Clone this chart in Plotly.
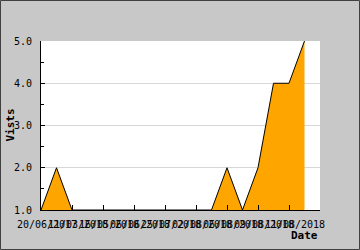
import plotly.graph_objects as go

dates = ["20/06/2017", "07/07/2017", "11/03/2018", "17/03/2018", "16/05/2018",
         "30/05/2018", "06/06/2018", "15/06/2018", "25/07/2018", "30/07/2018",
         "02/08/2018", "03/08/2018", "06/08/2018", "07/08/2018", "09/08/2018",
         "10/08/2018", "11/08/2018", "13/08/2018"]
visits = [1, 2, 1, 1, 1, 1, 1, 1, 1, 1, 1, 1, 2, 1, 2, 4, 4, 5]
y_ticks = [1, 2, 3, 4, 5]
y_labels = ["1.0", "2.0", "3.0", "4.0", "5.0"]

x_idx = list(range(len(dates)))
tick_idx = x_idx[::2]
tick_text = [dates[i] for i in tick_idx]

FONT = "DejaVu Sans Mono"

fig = go.Figure()
fig.add_trace(go.Scatter(
    x=x_idx, y=visits, mode="lines", fill="tozeroy",
    fillcolor="#FFA500", line=dict(color="#000000", width=1),
    hoverinfo="skip", showlegend=False,
))

L, R, T, B = 41, 40, 41, 40
W, H = 360, 250
pw, ph = W - L - R, H - T - B

fig.update_layout(
    width=W, height=H,
    margin=dict(l=L, r=R, t=T, b=B, pad=0),
    paper_bgcolor="#c8c8c8",
    plot_bgcolor="#ffffff",
    font=dict(family=FONT, size=10, color="#000000"),
    xaxis=dict(
        range=[0, 18], tickmode="array", tickvals=tick_idx, ticktext=tick_text,
        ticks="inside", ticklen=5, tickcolor="#000000", tickwidth=1,
        showline=True, linecolor="#000000", linewidth=1, showgrid=False,
        zeroline=False, tickangle=0, ticklabelshift=6, ticklabelstandoff=5,
        tickfont=dict(family=FONT, size=10),
    ),
    yaxis=dict(
        range=[1, 5], tickmode="array", tickvals=y_ticks, ticktext=y_labels,
        ticks="inside", ticklen=4, tickcolor="#000000", tickwidth=1,
        showline=True, linecolor="#000000", linewidth=1,
        showgrid=True, gridcolor="#d8d8d8", gridwidth=1, zeroline=False,
        ticklabelstandoff=6,
        minor=dict(dtick=0.5, ticks="inside", ticklen=3, tickcolor="#000000", showgrid=False),
        tickfont=dict(family=FONT, size=10),
    ),
    annotations=[
        dict(text="<b>Vists</b>", textangle=-90, xref="paper", yref="paper",
             x=-31 / pw, y=0.5, xanchor="center", yanchor="middle", showarrow=False,
             font=dict(family=FONT, size=11)),
        dict(text="<b>Date</b>", xref="paper", yref="paper",
             x=1.0, y=-26 / ph, xanchor="right", yanchor="middle", showarrow=False,
             font=dict(family=FONT, size=11)),
    ],
    shapes=[
        dict(type="rect", xref="paper", yref="paper",
             x0=-(L - 0.5) / pw, x1=(W - L - 0.5) / pw,
             y0=-(B - 0.5) / ph, y1=(H - B - 0.5) / ph,
             line=dict(color="#404040", width=1), fillcolor="rgba(0,0,0,0)", layer="below"),
    ],
)

fig.write_html("out.html")
